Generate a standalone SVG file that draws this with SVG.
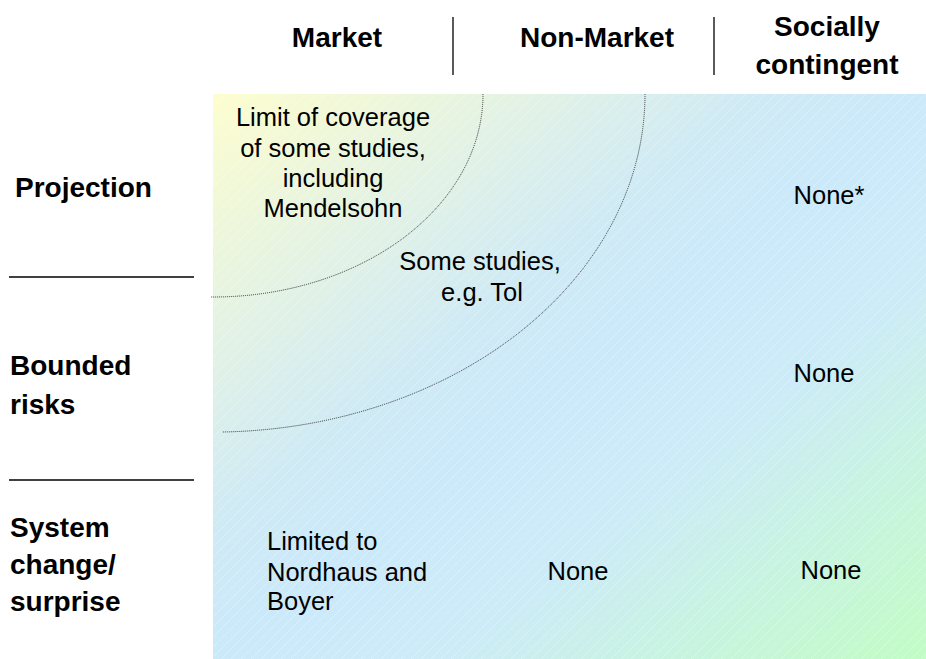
<svg xmlns="http://www.w3.org/2000/svg" width="926" height="659" viewBox="0 0 926 659">
  <style>
    .hd { font-family: "Liberation Sans", Arial, sans-serif; font-weight: bold; font-size: 28px; fill: #000; }
    .tx { font-family: "Liberation Sans", Arial, sans-serif; font-size: 25.5px; fill: #000; }
    .mid { text-anchor: middle; }
    .rule { stroke: #000; stroke-width: 1.3; fill: none; }
    .arc { stroke: #333; stroke-width: 1; stroke-dasharray: 1 1; fill: none; }
  </style>
  <defs>
    <linearGradient id="bg" x1="0" y1="0" x2="1" y2="1">
      <stop offset="0" stop-color="#fdfdcf"/>
      <stop offset="0.38" stop-color="#d0eaf4"/>
      <stop offset="0.5" stop-color="#cce9fa"/>
      <stop offset="0.66" stop-color="#cdebf7"/>
      <stop offset="1" stop-color="#c3fcc6"/>
    </linearGradient>
    <pattern id="hatch" patternUnits="userSpaceOnUse" width="10" height="10">
      <path d="M-1 11 L11 -1 M-1 1 L1 -1 M9 11 L11 9" stroke="#ffffff" stroke-width="0.8" stroke-opacity="0.35"/>
    </pattern>
  </defs>

  <g id="background">
    <rect x="213" y="94" width="713" height="565" fill="url(#bg)"/>
    <rect x="213" y="94" width="713" height="565" fill="url(#hatch)"/>
  </g>

  <g id="connectors">
    <path class="arc" d="M483 94 A270 203 0 0 1 211 297"/>
    <path class="arc" d="M645 94 A432 338 0 0 1 222 432"/>
    <line class="rule" x1="453" y1="17" x2="453" y2="75"/>
    <line class="rule" x1="714" y1="17" x2="714" y2="75"/>
    <line class="rule" x1="9" y1="277" x2="194" y2="277"/>
    <line class="rule" x1="9" y1="480" x2="194" y2="480"/>
  </g>

  <g id="col-market"><text class="hd mid" x="337" y="47">Market</text></g>
  <g id="col-nonmarket"><text class="hd mid" x="597" y="47">Non-Market</text></g>
  <g id="col-social">
    <text class="hd mid" x="827" y="36">Socially</text>
    <text class="hd mid" x="827" y="74">contingent</text>
  </g>

  <g id="row-projection"><text class="hd" x="15" y="197">Projection</text></g>
  <g id="row-bounded">
    <text class="hd" x="10" y="375">Bounded</text>
    <text class="hd" x="10" y="414">risks</text>
  </g>
  <g id="row-system">
    <text class="hd" x="10" y="537">System</text>
    <text class="hd" x="10" y="574">change/</text>
    <text class="hd" x="10" y="611">surprise</text>
  </g>

  <g id="cell-limit">
    <text class="tx mid" x="333" y="126">Limit of coverage</text>
    <text class="tx mid" x="333" y="157">of some studies,</text>
    <text class="tx mid" x="333" y="187">including</text>
    <text class="tx mid" x="333" y="217">Mendelsohn</text>
  </g>
  <g id="cell-some">
    <text class="tx mid" x="480" y="270">Some studies,</text>
    <text class="tx mid" x="482" y="301">e.g. Tol</text>
  </g>
  <g id="cell-proj-social"><text class="tx mid" x="829" y="204">None*</text></g>
  <g id="cell-bounded-social"><text class="tx mid" x="824" y="382">None</text></g>
  <g id="cell-system-market">
    <text class="tx" x="267" y="550">Limited to</text>
    <text class="tx" x="267" y="581">Nordhaus and</text>
    <text class="tx" x="267" y="610">Boyer</text>
  </g>
  <g id="cell-system-nonmarket"><text class="tx mid" x="578" y="580">None</text></g>
  <g id="cell-system-social"><text class="tx mid" x="831" y="579">None</text></g>
</svg>
